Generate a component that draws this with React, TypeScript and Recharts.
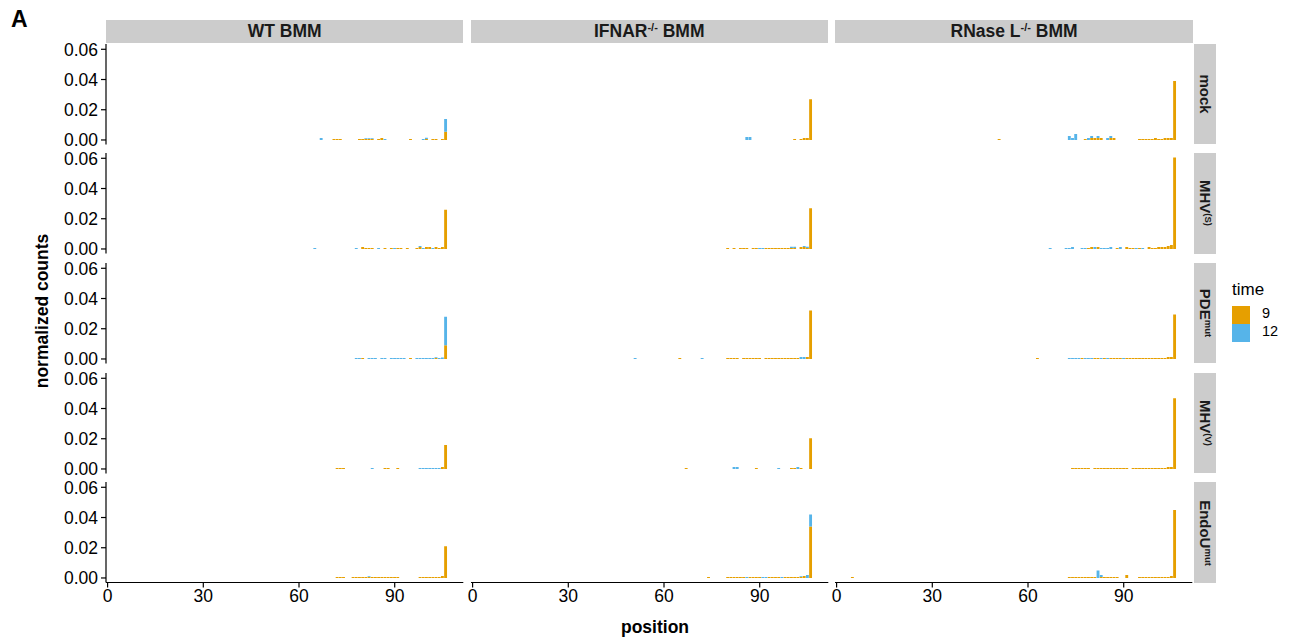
import { Bar, BarChart, XAxis, YAxis } from 'recharts';

const ORANGE = '#E69F00';
const BLUE = '#56B4E9';
const FONT = '"Liberation Sans", Arial, Helvetica, sans-serif';

// facet labels
const columnLabels: [string, string, string][] = [
  ['WT', '', ' BMM'],
  ['IFNAR', '-/-', ' BMM'],
  ['RNase L', '-/-', ' BMM'],
];
const rowLabels: [string, string][] = [
  ['mock', ''],
  ['MHV', '(S)'],
  ['PDE', 'mut'],
  ['MHV', '(V)'],
  ['EndoU', 'mut'],
];
const yTicks = [0, 0.02, 0.04, 0.06];
const xTickEvery = 30;
const positions = Array.from({ length: 112 }, (_, i) => i);

// [position, time 9, time 12]
const wtMock = [
  [67, 0, 0.0013], [71, 0.0006, 0], [72, 0.0006, 0], [73, 0.0006, 0], [79, 0.0006, 0], [80, 0.0006, 0],
  [81, 0.0006, 0.0006], [82, 0.0006, 0.0006], [83, 0.0006, 0.0006], [85, 0.0006, 0], [86, 0.0013, 0],
  [87, 0, 0.0006], [95, 0.0006, 0], [99, 0, 0.0006], [100, 0.0006, 0.0008], [102, 0.0006, 0],
  [103, 0.0006, 0], [105, 0.0006, 0], [106, 0.0055, 0.0083],
];
const ifnarMock = [
  [86, 0, 0.002], [87, 0, 0.002], [101, 0.0006, 0], [103, 0.0006, 0], [104, 0.0013, 0], [105, 0.0013, 0],
  [106, 0.027, 0],
];
const rnaseMock = [
  [51, 0.0006, 0], [73, 0, 0.0026], [74, 0, 0.0013], [75, 0, 0.004], [78, 0.0007, 0], [79, 0, 0.0013],
  [80, 0.0013, 0.0013], [81, 0.0013, 0], [82, 0.0013, 0.0013], [83, 0.0013, 0], [85, 0, 0.0013],
  [86, 0.0013, 0.0013], [87, 0.0013, 0], [95, 0.0007, 0], [96, 0.0007, 0], [97, 0.0007, 0], [98, 0.0007, 0],
  [99, 0.0007, 0], [100, 0.0013, 0], [101, 0.0007, 0], [102, 0.0007, 0], [103, 0.0013, 0], [104, 0.0013, 0],
  [105, 0.0013, 0], [106, 0.039, 0],
];
const wtMhvS = [
  [65, 0, 0.0006], [78, 0, 0.0006], [80, 0.0013, 0], [81, 0.0007, 0], [82, 0.0007, 0], [83, 0.0007, 0],
  [85, 0, 0.0007], [87, 0.0007, 0], [89, 0.0007, 0], [90, 0, 0.0007], [91, 0.0007, 0], [92, 0.0007, 0],
  [94, 0.0007, 0], [97, 0.0007, 0], [98, 0.0013, 0.0006], [99, 0, 0.0006], [100, 0.0013, 0], [101, 0.0013, 0],
  [102, 0, 0.0006], [103, 0.0013, 0], [104, 0.0007, 0], [105, 0.0013, 0], [106, 0.026, 0],
];
const ifnarMhvS = [
  [80, 0.0007, 0], [82, 0.0007, 0], [84, 0.0007, 0], [85, 0.0007, 0], [86, 0.0007, 0], [88, 0.0007, 0],
  [89, 0.0007, 0], [90, 0, 0.0007], [91, 0, 0.0007], [92, 0.0007, 0], [93, 0.0007, 0], [94, 0.0007, 0],
  [95, 0.0007, 0], [96, 0.0007, 0], [97, 0.0007, 0], [98, 0.0007, 0], [99, 0.0007, 0], [100, 0.0007, 0.0007],
  [101, 0.0007, 0.0007], [103, 0.0013, 0], [104, 0.0013, 0.0007], [105, 0.0007, 0.0007], [106, 0.027, 0],
];
const rnaseMhvS = [
  [67, 0, 0.0006], [72, 0, 0.0006], [73, 0, 0.0006], [74, 0, 0.0013], [77, 0, 0.0006], [78, 0, 0.0006],
  [79, 0.0006, 0], [80, 0.0013, 0], [81, 0, 0.0013], [82, 0.0013, 0], [83, 0, 0.0006], [84, 0, 0.0006],
  [85, 0, 0.0006], [86, 0, 0.0013], [88, 0.0006, 0], [89, 0, 0.0013], [91, 0.0013, 0], [92, 0.0006, 0],
  [93, 0.0006, 0], [94, 0, 0.0006], [95, 0.0006, 0], [96, 0, 0.0006], [98, 0.0013, 0], [99, 0.0006, 0],
  [100, 0.0006, 0], [101, 0.0013, 0], [102, 0.0013, 0], [103, 0.0013, 0], [104, 0.002, 0], [105, 0.0026, 0],
  [106, 0.0605, 0],
];
const wtPde = [
  [78, 0, 0.0006], [79, 0, 0.0006], [80, 0.0006, 0], [82, 0, 0.0006], [83, 0, 0.0006], [84, 0, 0.0006],
  [86, 0, 0.0006], [87, 0, 0.0006], [89, 0, 0.0006], [90, 0, 0.0006], [91, 0, 0.0006], [92, 0, 0.0006],
  [93, 0, 0.0006], [95, 0.0006, 0], [97, 0, 0.0006], [98, 0, 0.0006], [99, 0, 0.0006], [100, 0, 0.0006],
  [101, 0, 0.0006], [102, 0, 0.0006], [103, 0.0006, 0.0006], [104, 0, 0.0006], [105, 0, 0.001],
  [106, 0.009, 0.019],
];
const ifnarPde = [
  [51, 0, 0.0006], [65, 0.0006, 0], [72, 0, 0.0006], [80, 0.0006, 0], [81, 0.0006, 0], [82, 0.0006, 0],
  [83, 0.0006, 0], [85, 0.0006, 0], [86, 0.0006, 0], [87, 0.0006, 0], [88, 0.0006, 0], [89, 0.0006, 0],
  [90, 0.0006, 0], [92, 0.0006, 0], [93, 0.0006, 0], [94, 0.0006, 0], [95, 0.0006, 0], [96, 0.0006, 0],
  [97, 0.0006, 0], [98, 0.0006, 0], [99, 0.0006, 0], [100, 0.0006, 0], [101, 0.0006, 0], [102, 0.0006, 0],
  [103, 0, 0.0013], [104, 0, 0.0013], [105, 0.0013, 0], [106, 0.032, 0],
];
const rnasePde = [
  [63, 0.0006, 0], [73, 0, 0.0006], [74, 0, 0.0006], [75, 0, 0.0006], [76, 0, 0.0006], [77, 0.0006, 0],
  [78, 0, 0.0006], [79, 0, 0.0006], [80, 0, 0.0006], [81, 0.0006, 0], [82, 0.0006, 0], [83, 0, 0.0006],
  [84, 0.0006, 0], [85, 0, 0.0006], [86, 0.0006, 0], [87, 0.0006, 0], [88, 0.0006, 0], [89, 0.0006, 0],
  [90, 0, 0.0006], [91, 0.0006, 0], [92, 0.0006, 0], [93, 0.0006, 0], [94, 0.0006, 0], [95, 0.0006, 0],
  [96, 0.0006, 0], [97, 0.0006, 0], [98, 0.0006, 0], [99, 0.0006, 0], [100, 0.0006, 0], [101, 0.0006, 0],
  [102, 0.0006, 0], [103, 0.0006, 0], [104, 0.0013, 0], [105, 0.0013, 0], [106, 0.0295, 0],
];
const wtMhvV = [
  [72, 0.0007, 0], [73, 0.0007, 0], [74, 0.0007, 0], [83, 0, 0.0007], [87, 0.0007, 0], [88, 0.0007, 0],
  [91, 0.0007, 0], [98, 0, 0.0007], [99, 0, 0.0007], [100, 0, 0.0007], [101, 0, 0.0007], [102, 0, 0.0007],
  [103, 0, 0.0007], [104, 0, 0.0007], [105, 0.0013, 0], [106, 0.0158, 0],
];
const ifnarMhvV = [
  [67, 0.0007, 0], [82, 0, 0.0013], [83, 0, 0.0013], [89, 0.0007, 0], [96, 0, 0.0007], [100, 0.0007, 0],
  [101, 0.0007, 0], [102, 0, 0.0013], [103, 0.0007, 0], [106, 0.0204, 0],
];
const rnaseMhvV = [
  [74, 0.0006, 0], [75, 0.0006, 0], [76, 0.0006, 0], [77, 0.0006, 0], [78, 0.0006, 0], [79, 0.0006, 0],
  [81, 0.0006, 0], [82, 0.0006, 0], [83, 0.0006, 0], [84, 0.0006, 0], [85, 0.0006, 0], [86, 0.0006, 0],
  [87, 0.0006, 0], [88, 0.0006, 0], [89, 0.0006, 0], [90, 0.0006, 0], [91, 0.0006, 0], [93, 0.0006, 0],
  [94, 0.0006, 0], [95, 0.0006, 0], [96, 0.0006, 0], [97, 0.0006, 0], [98, 0.0006, 0], [99, 0.0006, 0],
  [100, 0.0006, 0], [101, 0.0006, 0], [102, 0.0006, 0], [103, 0.0006, 0], [104, 0.0013, 0], [105, 0.0013, 0],
  [106, 0.0468, 0],
];
const wtEndoU = [
  [72, 0.0006, 0], [73, 0.0006, 0], [74, 0.0006, 0], [77, 0.0006, 0], [78, 0.0006, 0], [79, 0.0006, 0],
  [80, 0.0006, 0], [81, 0.0006, 0], [82, 0.0006, 0.0006], [83, 0.0006, 0], [84, 0.0006, 0], [85, 0.0006, 0],
  [86, 0.0006, 0], [87, 0.0006, 0], [88, 0.0006, 0], [89, 0.0006, 0], [90, 0.0006, 0], [91, 0.0006, 0],
  [98, 0.0006, 0], [99, 0.0006, 0], [100, 0.0006, 0], [101, 0.0006, 0], [102, 0.0006, 0], [103, 0.0006, 0],
  [104, 0.0006, 0], [105, 0.0013, 0], [106, 0.021, 0],
];
const ifnarEndoU = [
  [74, 0.0006, 0], [80, 0.0006, 0], [81, 0.0006, 0], [82, 0.0006, 0], [83, 0.0006, 0], [84, 0.0006, 0],
  [85, 0.0006, 0], [86, 0, 0.0006], [87, 0.0006, 0], [88, 0.0006, 0], [89, 0.0006, 0], [90, 0.0006, 0],
  [91, 0, 0.0006], [92, 0, 0.0006], [93, 0.0006, 0], [94, 0.0006, 0], [95, 0.0006, 0], [96, 0.0006, 0],
  [97, 0, 0.0006], [98, 0.0006, 0], [99, 0.0006, 0], [100, 0.0006, 0], [101, 0.0006, 0], [102, 0.0006, 0],
  [103, 0.0006, 0.0006], [104, 0.0013, 0], [105, 0, 0.002], [106, 0.034, 0.008],
];
const rnaseEndoU = [
  [5, 0.0006, 0], [73, 0.0006, 0], [74, 0.0006, 0], [75, 0.0006, 0], [76, 0.0006, 0], [77, 0.0006, 0],
  [78, 0.0006, 0], [79, 0.0006, 0], [80, 0.0006, 0], [81, 0.0006, 0], [82, 0, 0.005], [83, 0.0006, 0.0013],
  [84, 0.0006, 0], [85, 0.0006, 0], [86, 0.0006, 0], [87, 0.0006, 0], [88, 0.0006, 0], [91, 0.002, 0],
  [95, 0.0006, 0], [96, 0.0006, 0], [97, 0.0006, 0], [98, 0.0006, 0], [99, 0.0006, 0], [100, 0.0006, 0],
  [101, 0.0006, 0], [102, 0.0006, 0], [103, 0.0006, 0], [104, 0.0006, 0], [105, 0.0013, 0], [106, 0.0449, 0],
];

const panels = [
  [wtMock, ifnarMock, rnaseMock],
  [wtMhvS, ifnarMhvS, rnaseMhvS],
  [wtPde, ifnarPde, rnasePde],
  [wtMhvV, ifnarMhvV, rnaseMhvV],
  [wtEndoU, ifnarEndoU, rnaseEndoU],
];

// layout (px)
const COL_LEFT = [106, 470.6, 835.4];
const PANEL_W = 357.3;
const ROW_TOP = [43.5, 153.2, 262.9, 372.6, 482.3];
const PANEL_H = 100.5;
const Y_AXIS_W = 60;
const X_AXIS_H = 30;
const PAD = 12; // room so edge tick labels are not clipped
const Y_DOMAIN: [number, number] = [-0.003, 0.0635];

function toRows(points: number[][]) {
  const byPos = new Map(points.map((p) => [p[0], p]));
  return positions.map((pos) => ({ pos, t9: byPos.get(pos)?.[1] ?? 0, t12: byPos.get(pos)?.[2] ?? 0 }));
}

function Panel({ points, row, col }: { points: number[][]; row: number; col: number }) {
  const showY = col === 0;
  const showX = row === panels.length - 1;
  const width = PANEL_W + (showY ? Y_AXIS_W : 0) + 2 * PAD;
  const height = PANEL_H + (showX ? X_AXIS_H : 0) + 2 * PAD;
  const tickStyle = { fontSize: 17.5, fill: '#000', fontFamily: FONT };
  return (
    <div
      style={{
        position: 'absolute',
        left: COL_LEFT[col] - (showY ? Y_AXIS_W : 0) - PAD,
        top: ROW_TOP[row] - PAD,
      }}
    >
      <BarChart
        width={width}
        height={height}
        data={toRows(points)}
        margin={{ top: PAD, right: PAD, bottom: PAD, left: PAD }}
        barCategoryGap={0}
        barGap={0}
      >
        <XAxis
          dataKey="pos"
          type="category"
          hide={!showX}
          height={X_AXIS_H}
          interval={xTickEvery - 1}
          tick={tickStyle}
          tickSize={5}
          tickMargin={2}
          axisLine={{ stroke: '#000', strokeWidth: 1.2 }}
          tickLine={{ stroke: '#000', strokeWidth: 1.2 }}
        />
        <YAxis
          type="number"
          domain={Y_DOMAIN}
          allowDataOverflow
          ticks={yTicks}
          interval={0}
          hide={!showY}
          width={Y_AXIS_W}
          tickFormatter={(v: number) => v.toFixed(2)}
          tick={tickStyle}
          tickSize={5}
          tickMargin={3}
          axisLine={{ stroke: '#000', strokeWidth: 1.2 }}
          tickLine={{ stroke: '#000', strokeWidth: 1.2 }}
        />
        <Bar dataKey="t9" stackId="a" fill={ORANGE} barSize={PANEL_W / positions.length} isAnimationActive={false} />
        <Bar dataKey="t12" stackId="a" fill={BLUE} barSize={PANEL_W / positions.length} isAnimationActive={false} />
      </BarChart>
    </div>
  );
}

export default function App() {
  const stripText = { fontFamily: FONT, fontWeight: 700, fontSize: 17.5, color: '#1a1a1a' };
  return (
    <div style={{ position: 'absolute', left: 0, top: 0, width: 1292, height: 644, background: '#fff', fontFamily: FONT }}>
      <div style={{ position: 'absolute', left: 11, top: 6, fontSize: 23, fontWeight: 700 }}>A</div>

      {columnLabels.map(([a, sup, b], c) => (
        <div
          key={c}
          style={{
            position: 'absolute', left: COL_LEFT[c], top: 20, width: PANEL_W, height: 23, background: '#CCCCCC',
            display: 'flex', alignItems: 'center', justifyContent: 'center', ...stripText,
          }}
        >
          <span>
            {a}
            {sup && <sup style={{ fontSize: 11, verticalAlign: 6 }}>{sup}</sup>}
            {b}
          </span>
        </div>
      ))}

      {rowLabels.map(([a, sup], r) => (
        <div
          key={r}
          style={{
            position: 'absolute', left: 1194, top: ROW_TOP[r], width: 22, height: PANEL_H, background: '#CCCCCC',
          }}
        >
          <div
            style={{
              position: 'absolute', left: '50%', top: '50%', transform: 'translate(-50%, -50%) rotate(90deg)',
              whiteSpace: 'nowrap', ...stripText, fontSize: 15,
            }}
          >
            {a}
            {sup && <sup style={{ fontSize: 9.5, verticalAlign: 5 }}>{sup}</sup>}
          </div>
        </div>
      ))}

      {panels.map((rowPanels, r) => rowPanels.map((points, c) => (
        <Panel key={`${r}-${c}`} points={points} row={r} col={c} />
      )))}

      <div
        style={{
          position: 'absolute', left: 42, top: 311, transform: 'translate(-50%, -50%) rotate(-90deg)',
          whiteSpace: 'nowrap', fontWeight: 700, fontSize: 17.5,
        }}
      >
        normalized counts
      </div>
      <div
        style={{
          position: 'absolute', left: 655, top: 627, transform: 'translate(-50%, -50%)',
          fontWeight: 700, fontSize: 17.5,
        }}
      >
        position
      </div>

      <div style={{ position: 'absolute', left: 1232, top: 280, fontSize: 17 }}>time</div>
      <div style={{ position: 'absolute', left: 1232, top: 306, width: 18, height: 17.5, background: ORANGE }} />
      <div style={{ position: 'absolute', left: 1232, top: 324, width: 18, height: 17.5, background: BLUE }} />
      <div style={{ position: 'absolute', left: 1262, top: 305, fontSize: 14.5 }}>9</div>
      <div style={{ position: 'absolute', left: 1262, top: 323, fontSize: 14.5 }}>12</div>
    </div>
  );
}
